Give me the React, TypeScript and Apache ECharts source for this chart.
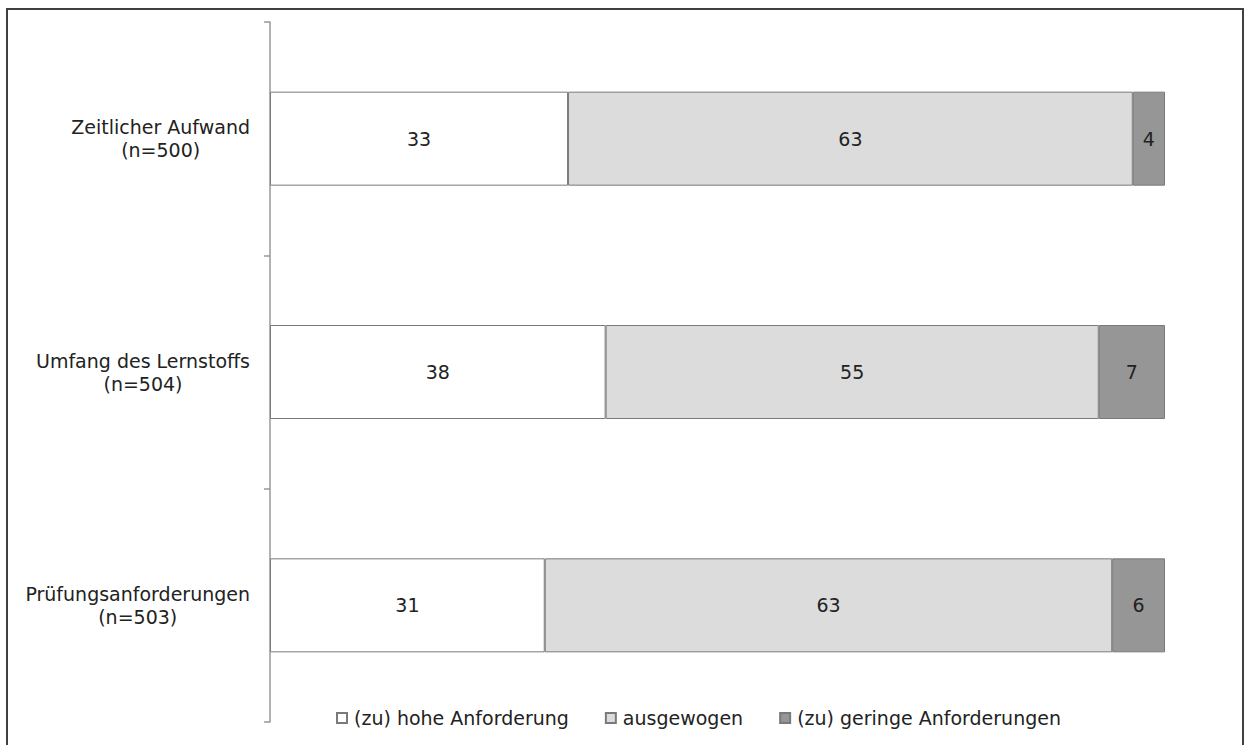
import React, { useEffect, useRef } from "react";
import * as echarts from "echarts";

const categories = ["Zeitlicher Aufwand", "Umfang des Lernstoffs", "Prüfungsanforderungen"];
const sampleSizes = [500, 504, 503];
const seriesNames = ["(zu) hohe Anforderung", "ausgewogen", "(zu) geringe Anforderungen"];
const hoheValues = [33.3, 37.5, 30.7];
const ausgewogenValues = [63.1, 55.1, 63.4];
const geringeValues = [3.6, 7.4, 5.9];
const seriesColors = ["#ffffff", "#dcdcdc", "#969696"];

const FONT = "DejaVu Sans";

export default function App() {
  const ref = useRef<HTMLDivElement>(null);
  useEffect(() => {
    if (!ref.current) return;
    const chart = echarts.init(ref.current, null, { renderer: "svg" });
    const axisData = categories.map((c, i) => `${c}\n(n=${sampleSizes[i]})`);
    const valueSets = [hoheValues, ausgewogenValues, geringeValues];
    chart.setOption({
      animation: false,
      backgroundColor: "#ffffff",
      textStyle: { fontFamily: FONT },
      grid: { left: 270, right: 82, top: 22, bottom: 23, containLabel: false },
      xAxis: { type: "value", min: 0, max: 100, show: false },
      yAxis: {
        type: "category",
        data: axisData,
        inverse: true,
        axisLine: { show: true, lineStyle: { color: "#999999", width: 1.5 } },
        axisTick: { show: true, length: 6, lineStyle: { color: "#999999", width: 1.5 } },
        axisLabel: {
          margin: 20,
          align: "right",
          formatter: (v: string) =>
            v
              .split("\n")
              .map((l) => `{c|${l}}`)
              .join("\n"),
          rich: {
            c: {
              align: "center",
              fontFamily: FONT,
              fontSize: 19,
              lineHeight: 23,
              color: "#222222",
            },
          },
        },
        splitLine: { show: false },
      },
      legend: {
        left: 336,
        top: 708,
        padding: 0,
        itemWidth: 10,
        itemHeight: 10,
        itemGap: 36,
        icon: "rect",
        textStyle: { fontFamily: FONT, fontSize: 19, color: "#222222", lineHeight: 20, padding: [0, 0, 0, 2] },
        data: seriesNames,
      },
      series: seriesNames.map((name, i) => ({
        name,
        type: "bar",
        stack: "total",
        barWidth: 94,
        data: valueSets[i],
        itemStyle: { color: seriesColors[i], borderColor: "#7a7a7a", borderWidth: 1 },
        label: {
          show: true,
          position: "inside",
          fontFamily: FONT,
          fontSize: 19,
          color: "#222222",
          formatter: (p: any) => String(Math.round(p.value)),
        },
      })),
      graphic: [
        {
          type: "rect",
          shape: { x: 7, y: 9, width: 1236, height: 760 },
          style: { fill: "none", stroke: "#404040", lineWidth: 2 },
          silent: true,
        },
      ],
    });
    return () => chart.dispose();
  }, []);
  return (
    <div
      ref={ref}
      style={{ position: "fixed", left: 0, top: 0, width: 1247, height: 745 }}
    />
  );
}
